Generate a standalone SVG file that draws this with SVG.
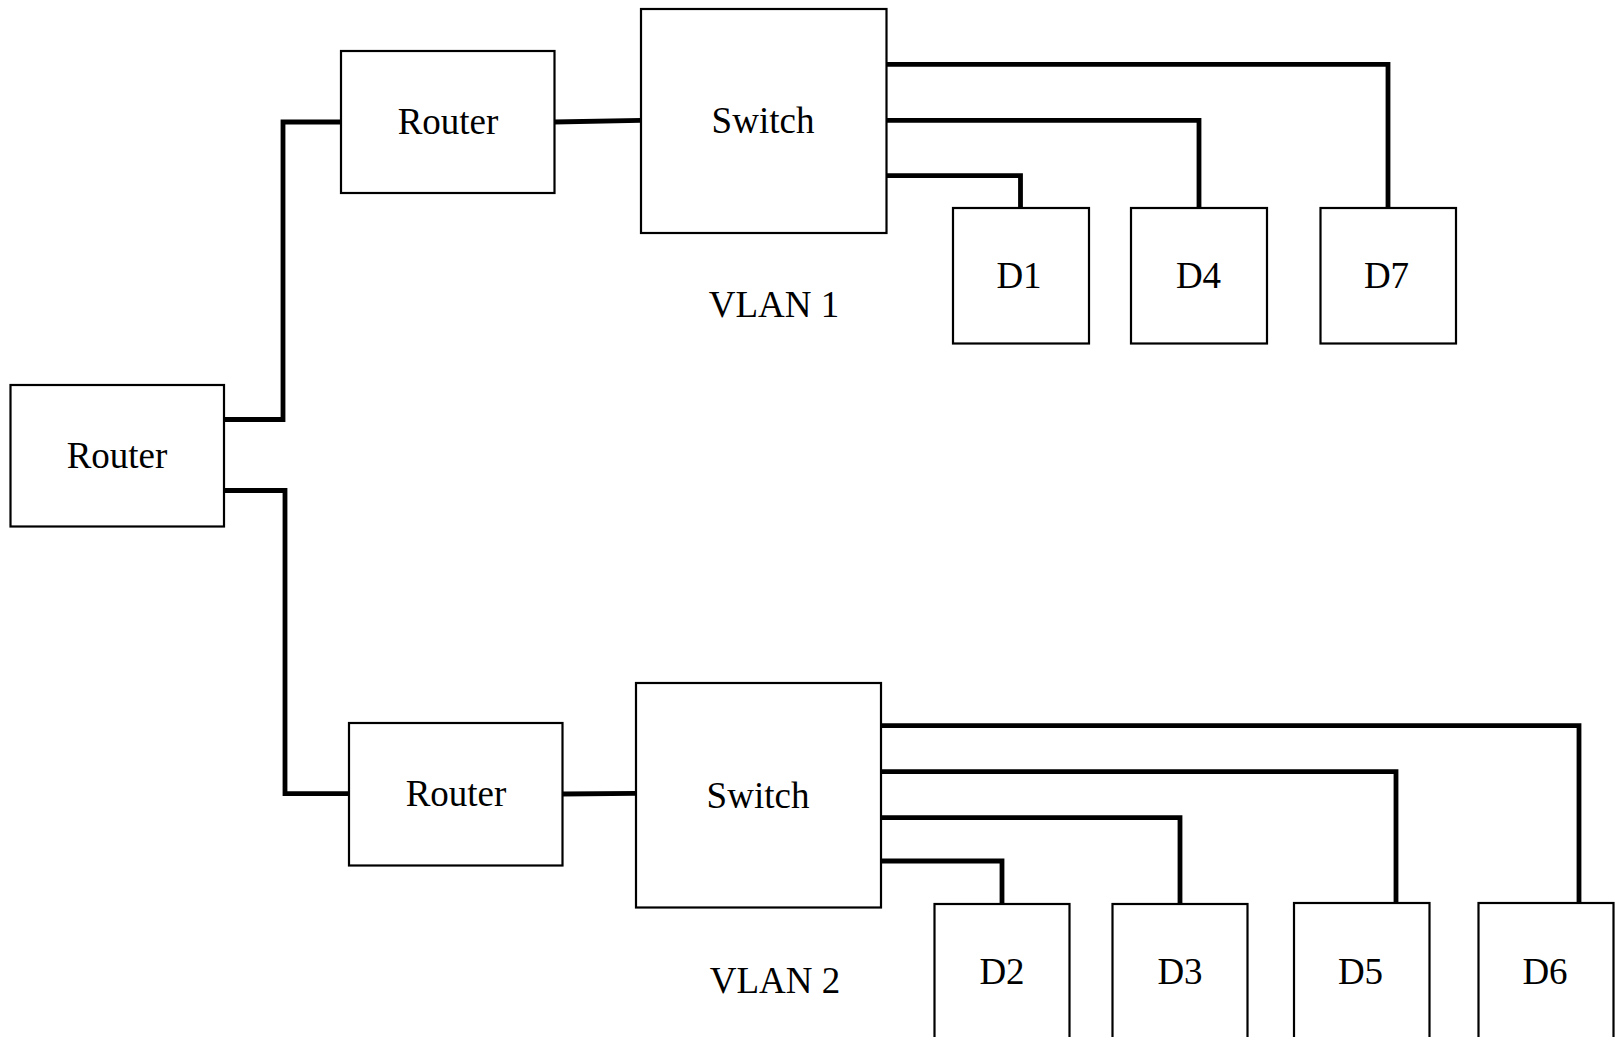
<svg xmlns="http://www.w3.org/2000/svg" width="1620" height="1037" viewBox="0 0 1620 1037">
<style>
.box{fill:#fff;stroke:#000;stroke-width:2.2}
.lbl{font-family:"Liberation Serif","Times New Roman",serif;font-size:37px;fill:#000;text-anchor:middle}
.wire{fill:none;stroke:#000;stroke-width:4.8;stroke-linejoin:miter}
</style>
<rect width="1620" height="1037" fill="#fff"/>
<g id="connectors">
<polyline class="wire" points="224,419.5 283,419.5 283,122 341,122"/>
<polyline class="wire" points="224,490.5 285,490.5 285,793.6 349,793.6"/>
<line class="wire" x1="554" y1="122" x2="641" y2="120.3"/>
<line class="wire" x1="562" y1="794" x2="636" y2="793.3"/>
<polyline class="wire" points="886,64.3 1388,64.3 1388,208"/>
<polyline class="wire" points="886,120.3 1199,120.3 1199,208"/>
<polyline class="wire" points="886,175.6 1020.5,175.6 1020.5,208"/>
<polyline class="wire" points="880,725.7 1579,725.7 1579,903"/>
<polyline class="wire" points="880,771.7 1396,771.7 1396,903"/>
<polyline class="wire" points="880,817.7 1180,817.7 1180,904"/>
<polyline class="wire" points="880,861 1002,861 1002,904"/>
</g>
<g id="router-core"><rect class="box" x="10.5" y="385" width="213.5" height="141.5"/><text class="lbl" x="117" y="467.5">Router</text></g>
<g id="router-1"><rect class="box" x="341" y="51" width="213.5" height="142"/><text class="lbl" x="448" y="134">Router</text></g>
<g id="switch-1"><rect class="box" x="641" y="9" width="245.5" height="224"/><text class="lbl" x="763" y="133">Switch</text></g>
<text class="lbl" x="774" y="317">VLAN 1</text>
<g id="d1"><rect class="box" x="953" y="208" width="136" height="135.5"/><text class="lbl" x="1019" y="287.5">D1</text></g>
<g id="d4"><rect class="box" x="1131" y="208" width="136" height="135.5"/><text class="lbl" x="1198.5" y="287.5">D4</text></g>
<g id="d7"><rect class="box" x="1320.5" y="208" width="135.5" height="135.5"/><text class="lbl" x="1386.5" y="287.5">D7</text></g>
<g id="router-2"><rect class="box" x="349" y="723" width="213.5" height="142.5"/><text class="lbl" x="456" y="805.5">Router</text></g>
<g id="switch-2"><rect class="box" x="636" y="683" width="245" height="224.5"/><text class="lbl" x="758" y="808">Switch</text></g>
<text class="lbl" x="775" y="992.5">VLAN 2</text>
<g id="d2"><rect class="box" x="934.5" y="904" width="135" height="140"/><text class="lbl" x="1002" y="984">D2</text></g>
<g id="d3"><rect class="box" x="1112.5" y="904" width="135" height="140"/><text class="lbl" x="1180" y="984">D3</text></g>
<g id="d5"><rect class="box" x="1294" y="903" width="135.5" height="140"/><text class="lbl" x="1360.5" y="984">D5</text></g>
<g id="d6"><rect class="box" x="1478.5" y="903" width="135" height="140"/><text class="lbl" x="1545" y="984">D6</text></g>
</svg>
